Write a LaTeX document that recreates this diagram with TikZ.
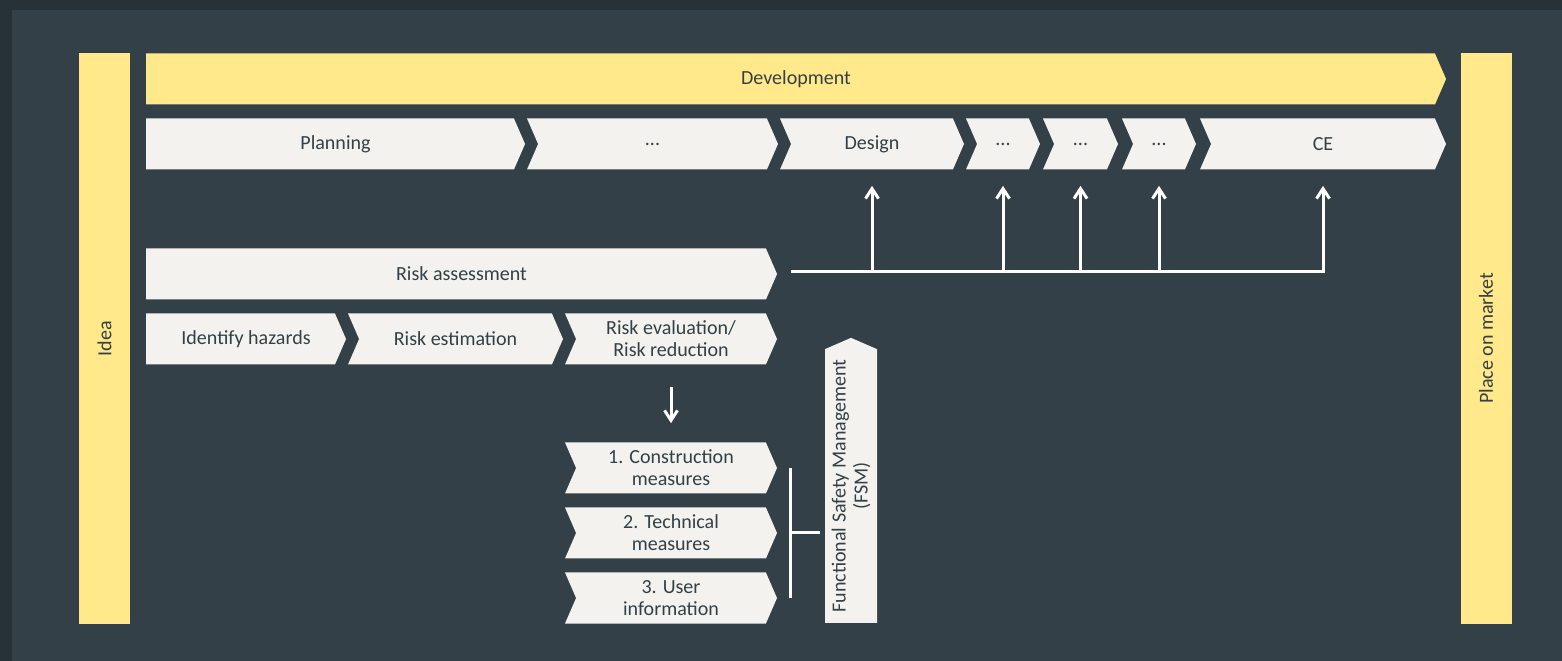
\documentclass[tikz,border=0pt]{standalone}
\usepackage{fontspec}
\setmainfont{Carlito}
\usetikzlibrary{arrows.meta,calc,shapes.symbols}
\definecolor{outerbg}{RGB}{38,50,56}
\definecolor{panelbg}{RGB}{51,64,71}
\definecolor{barfill}{RGB}{255,233,138}
\definecolor{stepfill}{RGB}{243,242,238}
\definecolor{ink}{RGB}{51,64,71}
\tikzset{
  txt/.style={
    font=\fontsize{11.4}{12.6}\selectfont,
    text=ink,
    align=center,
    inner sep=0pt
  },
  bar/.style={txt, rectangle, fill=barfill, rotate=90,
    minimum width=114.2mm, minimum height=10.2mm},
  phase/.style={txt, signal, signal to=east, signal from=nowhere,
    signal pointer angle=133, minimum height=10.2mm},
  % text centred over body and tip together
  flatleft/.style={execute at begin node=\hspace*{2.2mm}},
  stepbox/.style={phase, fill=stepfill},
  notched/.style={stepbox, signal from=west},
  link/.style={draw=white, line width=0.6mm,
    -{Straight Barb[length=2mm,width=2.6mm]}},
  brace/.style={draw=white, line width=0.6mm}
}

\begin{document}
\begin{tikzpicture}[x=0.2mm,y=-0.2mm]
    \fill[outerbg] (0,0) rectangle (1562,661);
    \fill[panelbg] (12,10) rectangle (1562,661);
    \useasboundingbox (0,0) rectangle (1562,661);

    % side bars
    \node[bar] (idea) at (104.5,338.5) {Idea};
    \node[bar] (market) at (1486,338.5) {Place on market};

    % development phases (flat-left ones sit 5.5 left, the tip is outside the body)
    \node[phase, flatleft, fill=barfill, minimum width=260mm] (dev) at (790.5,79) {Development};

    \node[stepbox, flatleft, minimum width=75.8mm] (plan) at (330,144) {Planning};
    \node[notched, minimum width=50.2mm] (dots1) at (652.5,144) {...};
    \node[notched, minimum width=36.8mm] (design) at (872,144) {Design};
    \node[notched, minimum width=14.8mm] (dots2) at (1003,144) {...};
    \node[notched, minimum width=15mm] (dots3) at (1080.5,144) {...};
    \node[notched, minimum width=14.8mm] (dots4) at (1159,144) {...};
    \node[notched, minimum width=49.2mm] (ce) at (1323,144) {CE};

    % risk assessment
    \node[stepbox, flatleft, minimum width=126.2mm] (risk) at (456,274) {Risk assessment};

    \node[stepbox, flatleft, minimum width=40mm] (hazard) at (240.5,339) {Identify hazards};
    \node[notched, minimum width=43mm] (estim) at (455.5,339) {Risk estimation};
    \node[notched, minimum width=42.4mm] (evalu) at (671,339) {Risk evaluation/\\Risk reduction};

    \node[notched, minimum width=42.4mm] (constr) at (671,468) {1. Construction\\measures};
    \node[notched, minimum width=42.4mm] (techn) at (671,533) {2. Technical\\measures};
    \node[notched, minimum width=42.4mm] (user) at (671,598) {3. User\\information};

    \node[stepbox, rotate=90, minimum width=57mm, minimum height=10.4mm] (fsm)
      at (851,486) {Functional Safety Management\\(FSM)};

    % feedback into the development steps
    \coordinate (busL) at ($(risk.east)+(14,-2)$);
    \draw[link, shorten >=3.2mm] (busL) -| (ce.south);
    \foreach \s in {design,dots2,dots3,dots4}
      \draw[link, shorten >=3.2mm] (\s.south |- busL) -- (\s.south);

    \draw[link] ($(evalu.south)+(0,22)$) -- ($(constr.north)+(0,-19)$);

    % measures bracket
    \coordinate (brT) at ($(constr.east)+(13,0)$);
    \coordinate (brB) at ($(user.east)+(13,0)$);
    \draw[brace] (brT) -- (brB);
    \draw[brace] (brT |- techn) -- ($(fsm.north |- techn)+(-5,0)$);
  \end{tikzpicture}
\end{document}
